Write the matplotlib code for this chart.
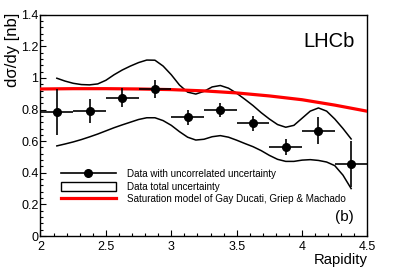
import matplotlib
matplotlib.use('Agg')
import matplotlib.pyplot as plt
from matplotlib.lines import Line2D
from matplotlib.patches import Patch
from matplotlib.ticker import MultipleLocator, FuncFormatter

plt.rcParams['font.family'] = ['Liberation Sans', 'DejaVu Sans']

# ---- data ----
rapidity = [2.125, 2.375, 2.625, 2.875, 3.125, 3.375, 3.625, 3.875, 4.125, 4.375]
bin_half = [0.125] * 10
dsigma = [0.783, 0.789, 0.876, 0.928, 0.750, 0.795, 0.713, 0.565, 0.666, 0.454]
err_uncorr = [0.147, 0.076, 0.059, 0.056, 0.045, 0.045, 0.047, 0.050, 0.087, 0.145]

env_x = [2.125, 2.1875, 2.25, 2.3125, 2.375, 2.4375, 2.5, 2.5625, 2.625, 2.6875,
         2.75, 2.8125, 2.875, 2.9375, 3.0, 3.0625, 3.125, 3.1875, 3.25, 3.3125,
         3.375, 3.4375, 3.5, 3.5625, 3.625, 3.6875, 3.75, 3.8125, 3.875, 3.9375,
         4.0, 4.0625, 4.125, 4.1875, 4.25, 4.3125, 4.375]
env_upper = [0.998, 0.980, 0.966, 0.958, 0.956, 0.962, 0.985, 1.020, 1.050, 1.075,
             1.097, 1.113, 1.112, 1.075, 1.020, 0.955, 0.910, 0.898, 0.915, 0.943,
             0.952, 0.935, 0.903, 0.865, 0.825, 0.780, 0.740, 0.705, 0.688, 0.700,
             0.745, 0.790, 0.810, 0.790, 0.740, 0.680, 0.614]
env_lower = [0.570, 0.582, 0.595, 0.610, 0.627, 0.645, 0.665, 0.685, 0.703, 0.720,
             0.737, 0.748, 0.748, 0.730, 0.700, 0.660, 0.625, 0.607, 0.612, 0.628,
             0.635, 0.625, 0.606, 0.585, 0.565, 0.540, 0.510, 0.485, 0.472, 0.472,
             0.480, 0.483, 0.478, 0.468, 0.445, 0.385, 0.300]

model_x = [2.0, 2.25, 2.5, 2.75, 3.0, 3.25, 3.5, 3.75, 4.0, 4.25, 4.5]
model_y = [0.930, 0.932, 0.932, 0.930, 0.926, 0.918, 0.905, 0.886, 0.862, 0.828, 0.789]

x_ticks = [2, 2.5, 3, 3.5, 4, 4.5]
y_ticks = [0, 0.2, 0.4, 0.6, 0.8, 1.0, 1.2, 1.4]

legend_labels = ['Data with uncorrelated uncertainty',
                 'Data total uncertainty',
                 'Saturation model of Gay Ducati, Griep & Machado']

# ---- figure ----
fig = plt.figure(figsize=(4.09, 2.77), dpi=100)
ax = fig.add_axes([0.099, 0.148, 0.7995, 0.799])

ax.plot(env_x, env_upper, color='black', lw=1.1, zorder=2)
ax.plot(env_x, env_lower, color='black', lw=1.1, zorder=2)
ax.plot(model_x, model_y, color='#ff0000', lw=2.3, zorder=3)
ax.errorbar(rapidity, dsigma, xerr=bin_half, yerr=err_uncorr, fmt='o',
            color='black', ms=5.5, elinewidth=1.2, capsize=0, zorder=4)

ax.set_xlim(2, 4.5)
ax.set_ylim(0, 1.4)
ax.set_xticks(x_ticks)
ax.set_yticks(y_ticks)
ax.xaxis.set_minor_locator(MultipleLocator(0.1))
ax.yaxis.set_minor_locator(MultipleLocator(0.04))
fmt = FuncFormatter(lambda v, p: f'{v:g}')
ax.xaxis.set_major_formatter(fmt)
ax.yaxis.set_major_formatter(fmt)
ax.tick_params(which='both', direction='in', top=False, right=False, labelsize=9)
ax.tick_params(axis='x', which='major', length=4.5, width=0.8, pad=3.5)
ax.tick_params(axis='x', which='minor', length=2.2, width=0.8)
ax.tick_params(axis='y', which='major', length=4.0, width=0.8, pad=1.5)
ax.tick_params(axis='y', which='minor', length=2.0, width=0.8)
for s in ax.spines.values():
    s.set_linewidth(1.0)

ax.set_xlabel('Rapidity', fontsize=10.7, loc='right')
ax.xaxis.set_label_coords(1.0, -0.076)
ax.set_ylabel('dσ/dy [nb]', fontsize=12, loc='top')
ax.yaxis.set_label_coords(-0.063, 1.008)

ax.text(0.961, 0.852, 'LHCb', transform=ax.transAxes, ha='right', va='baseline',
        fontsize=14.5)
ax.text(0.958, 0.088, '(b)', transform=ax.transAxes, ha='right', va='center',
        fontsize=11)

handles = [Line2D([], [], color='black', marker='o', markersize=5.5, lw=1.2),
           Patch(facecolor='white', edgecolor='black', lw=1.0),
           Line2D([], [], color='#ff0000', lw=2.3)]
ax.legend(handles, legend_labels, loc='center left', bbox_to_anchor=(0.062, 0.223),
          frameon=False, fontsize=7.1, handlelength=5.6, handleheight=1.02,
          handletextpad=1.1, labelspacing=0.25, borderpad=0, borderaxespad=0,
          numpoints=1)

fig.savefig('out.png', dpi=100)
